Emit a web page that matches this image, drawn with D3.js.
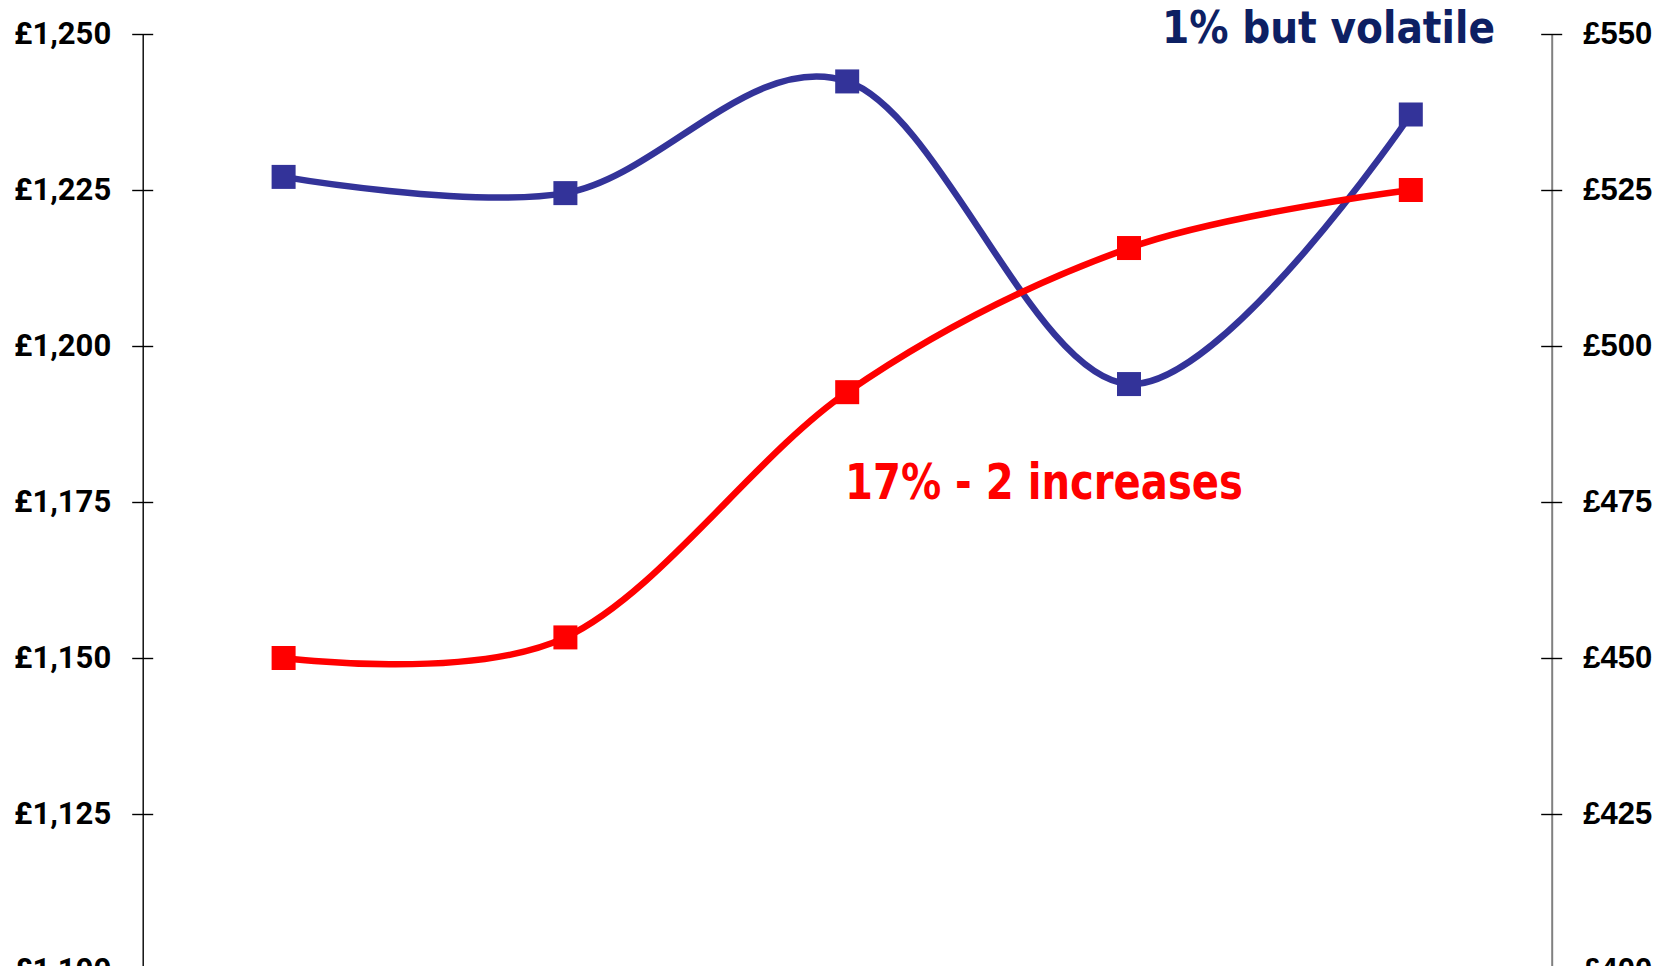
<!DOCTYPE html>
<html>
<head>
<meta charset="utf-8">
<script src="https://cdnjs.cloudflare.com/ajax/libs/d3/7.8.5/d3.min.js"></script>
<style>
  html, body { margin: 0; padding: 0; background: #fff; overflow: hidden; }
  svg { display: block; }
</style>
</head>
<body>
<svg width="1663" height="966"></svg>
<script>
// periods along the x axis (labels sit below the visible area)
const periods = ["P1", "P2", "P3", "P4", "P5"];

// left axis series (blue)
const blueValues = [1227.1, 1224.5, 1242.4, 1193.9, 1237.1];
// right axis series (red)
const redValues = [450.0, 453.3, 492.6, 515.7, 525.0];

const leftTicks = [1100, 1125, 1150, 1175, 1200, 1225, 1250];
const rightTicks = [400, 425, 450, 475, 500, 525, 550];

const blueNote = "1% but volatile";
const redNote = "17% - 2 increases";

const svg = d3.select("svg");

const plotLeft = 142.7, plotRight = 1551.7, plotTop = 34, plotBottom = 970;

const gbp = d3.formatLocale({
    decimal: ".", thousands: ",", grouping: [3], currency: ["£", ""]
}).format("$,");

const x = d3.scalePoint().domain(periods).range([plotLeft, plotRight]).padding(0.5);
const yLeft = d3.scaleLinear().domain([1100, 1250]).range([plotBottom, plotTop]);
const yRight = d3.scaleLinear().domain([400, 550]).range([plotBottom, plotTop]);

// Left axis
const gL = svg.append("g")
    .attr("transform", `translate(${plotLeft},0)`)
    .call(d3.axisLeft(yLeft).tickValues(leftTicks).tickFormat(gbp)
        .tickSizeInner(10.5).tickSizeOuter(0).tickPadding(21));
gL.select(".domain").attr("stroke", "#000").attr("stroke-width", 1.4);
gL.selectAll(".tick line").attr("x1", 10.5).attr("stroke", "#000").attr("stroke-width", 1.4);
gL.selectAll(".tick text")
    .style("font-family", "Roboto, sans-serif")
    .style("font-weight", "bold")
    .style("font-size", "31px")
    .attr("fill", "#000");

// Right axis
const gR = svg.append("g")
    .attr("transform", `translate(${plotRight},0)`)
    .call(d3.axisRight(yRight).tickValues(rightTicks).tickFormat(gbp)
        .tickSizeInner(10.5).tickSizeOuter(0).tickPadding(21));
gR.select(".domain").attr("stroke", "#808080").attr("stroke-width", 2);
gR.selectAll(".tick line").attr("x1", -10.5).attr("stroke", "#000").attr("stroke-width", 1.4);
gR.selectAll(".tick text")
    .style("font-family", "'Liberation Sans', Arial, sans-serif")
    .style("font-weight", "bold")
    .style("font-size", "31px")
    .attr("fill", "#000");

// Series
const series = [
    { values: blueValues, y: yLeft, color: "#333399" },
    { values: redValues, y: yRight, color: "#ff0000" }
];

const marker = 24;

series.forEach(s => {
    const line = d3.line()
        .x((d, i) => x(periods[i]))
        .y(d => s.y(d))
        .curve(d3.curveCardinal.tension(0));

    svg.append("path")
        .datum(s.values)
        .attr("d", line)
        .attr("fill", "none")
        .attr("stroke", s.color)
        .attr("stroke-width", 6.5)
        .attr("stroke-linejoin", "round");

    svg.selectAll(null)
        .data(s.values)
        .enter()
        .append("rect")
        .attr("x", (d, i) => x(periods[i]) - marker / 2)
        .attr("y", d => s.y(d) - marker / 2)
        .attr("width", marker)
        .attr("height", marker)
        .attr("fill", s.color);
});

// Annotations
svg.append("text")
    .attr("x", 1495)
    .attr("y", 43)
    .attr("text-anchor", "end")
    .attr("textLength", 333)
    .attr("lengthAdjust", "spacingAndGlyphs")
    .style("font-family", "'DejaVu Sans', sans-serif")
    .style("font-weight", "bold")
    .style("font-size", "45px")
    .attr("fill", "#0d2063")
    .text(blueNote);

svg.append("text")
    .attr("x", 845)
    .attr("y", 499)
    .attr("textLength", 398)
    .attr("lengthAdjust", "spacingAndGlyphs")
    .style("font-family", "'DejaVu Sans', sans-serif")
    .style("font-weight", "bold")
    .style("font-size", "49px")
    .attr("fill", "#ff0000")
    .text(redNote);
</script>
</body>
</html>
